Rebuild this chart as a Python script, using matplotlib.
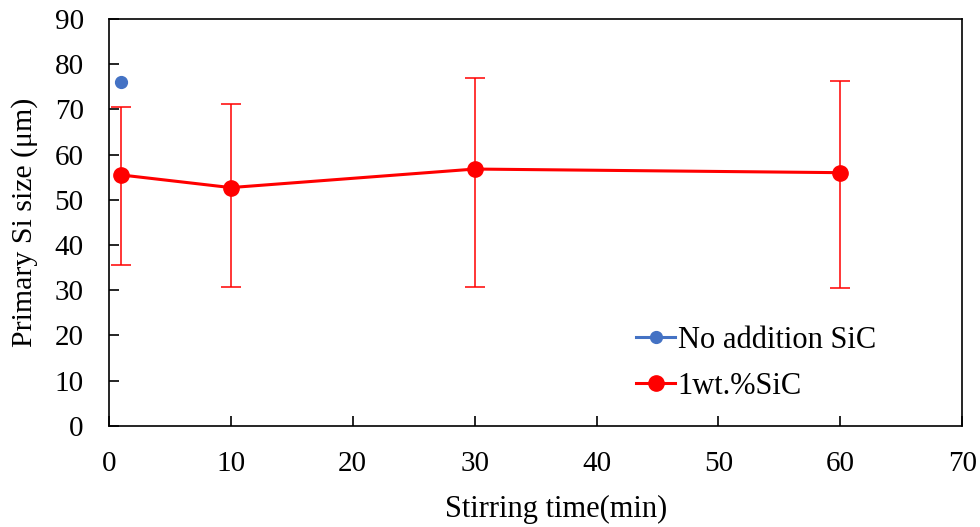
import matplotlib.pyplot as plt

plt.rcParams['font.family'] = ['Liberation Serif', 'DejaVu Serif']

# stirring time (min) and primary Si size (um)
no_sic_time = [1]
no_sic_size = [76.0]

sic_time = [1, 10, 30, 60]
sic_size = [55.5, 52.7, 56.8, 56.0]
sic_upper = [70.6, 71.2, 77.0, 76.3]
sic_lower = [35.5, 30.6, 30.8, 30.4]

err_low = [m - lo for m, lo in zip(sic_size, sic_lower)]
err_high = [hi - m for m, hi in zip(sic_size, sic_upper)]

fig = plt.figure(figsize=(9.8, 5.27), dpi=100)
ax = fig.add_axes([0.111, 0.192, 0.871, 0.772])

ax.errorbar(sic_time, sic_size, yerr=[err_low, err_high], fmt='none',
            ecolor='#FF0000', elinewidth=1.1, capsize=7, capthick=1.1)
ax.plot(no_sic_time, no_sic_size, color='#4472C4', marker='o', markersize=8.5,
        linewidth=2.2, label='No addition SiC')
ax.plot(sic_time, sic_size, color='#FF0000', marker='o', markersize=11,
        linewidth=2.2, label='1wt.%SiC')

ax.set_xlim(0, 70)
ax.set_ylim(0, 90)
ax.set_xticks(range(0, 71, 10))
ax.set_yticks(range(0, 91, 10))
ax.tick_params(direction='in', length=7, width=1.2, labelsize=21, pad=18)
for s in ax.spines.values():
    s.set_linewidth(1.2)

ax.set_xlabel('Stirring time(min)', fontsize=22)
ax.set_ylabel('Primary Si size (μm)', fontsize=21.5)
ax.xaxis.set_label_coords(0.524, -0.17)
ax.yaxis.set_label_coords(-0.083, 0.5)

ax.legend(loc='lower left', bbox_to_anchor=(0.586, -0.006), frameon=False,
          fontsize=22, handlelength=1.25, handletextpad=0.1, labelspacing=0.55)

fig.savefig('out.png', dpi=100)
